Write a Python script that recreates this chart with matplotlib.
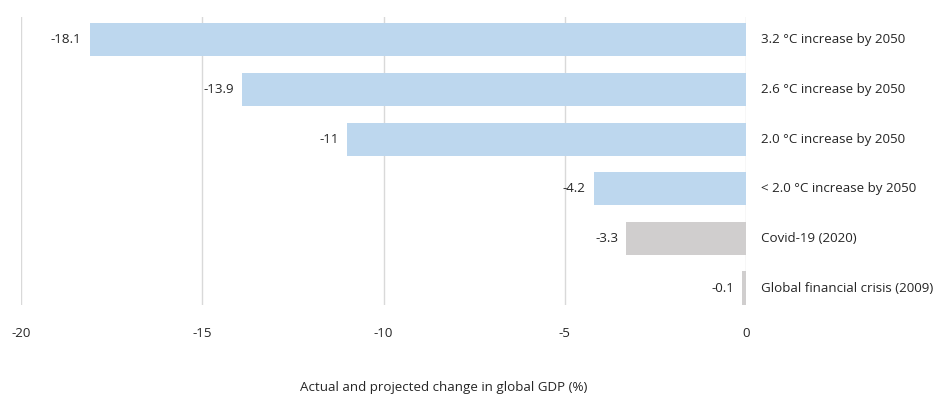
import matplotlib
matplotlib.use("Agg")
import matplotlib.pyplot as plt

# ── Data ────────────────────────────────────────────────────────────────
categories = [
    "3.2 °C increase by 2050",
    "2.6 °C increase by 2050",
    "2.0 °C increase by 2050",
    "< 2.0 °C increase by 2050",
    "Covid-19 (2020)",
    "Global financial crisis (2009)",
]
values = [-18.1, -13.9, -11.0, -4.2, -3.3, -0.1]
kinds = ["proj", "proj", "proj", "proj", "actual", "actual"]
xticks = [-20, -15, -10, -5, 0]

plt.rcParams["font.family"] = ["Open Sans", "DejaVu Sans"]

colors = {"proj": "#BDD7EE", "actual": "#D0CECE"}
text_color = "#262626"
fs = 9.6

fig = plt.figure(figsize=(9.38, 3.96), dpi=100)
ax = fig.add_axes([21 / 938, 1 - 305 / 396, (746 - 21) / 938, (305 - 17) / 396])

ypos = list(range(len(categories)))
ax.barh(ypos, values, height=0.67, color=[colors[k] for k in kinds], zorder=3)

for y, v, cat in zip(ypos, values, categories):
    ax.annotate(f"{v:g}", (v, y), textcoords="offset points", xytext=(-6, 0),
                ha="right", va="center", fontsize=fs, color=text_color)
    ax.annotate(cat, (0, y), textcoords="offset points", xytext=(11, 0),
                ha="left", va="center", fontsize=fs, color=text_color,
                annotation_clip=False)

ax.set_xlim(-20, 0)
ax.set_ylim(5.34, -0.46)
ax.set_xticks(xticks)
ax.set_xticklabels([str(t) for t in xticks])
ax.set_yticks([])
ax.grid(axis="x", color="#D9D9D9", linewidth=1, zorder=0)
for s in ax.spines.values():
    s.set_visible(False)
ax.tick_params(axis="x", length=0, pad=16, labelsize=fs, labelcolor=text_color)

fig.text(444 / 938, 1 - 388 / 396, "Actual and projected change in global GDP (%)",
         ha="center", va="center", fontsize=fs, color=text_color)

fig.savefig("out.png", dpi=100)
plt.close()
